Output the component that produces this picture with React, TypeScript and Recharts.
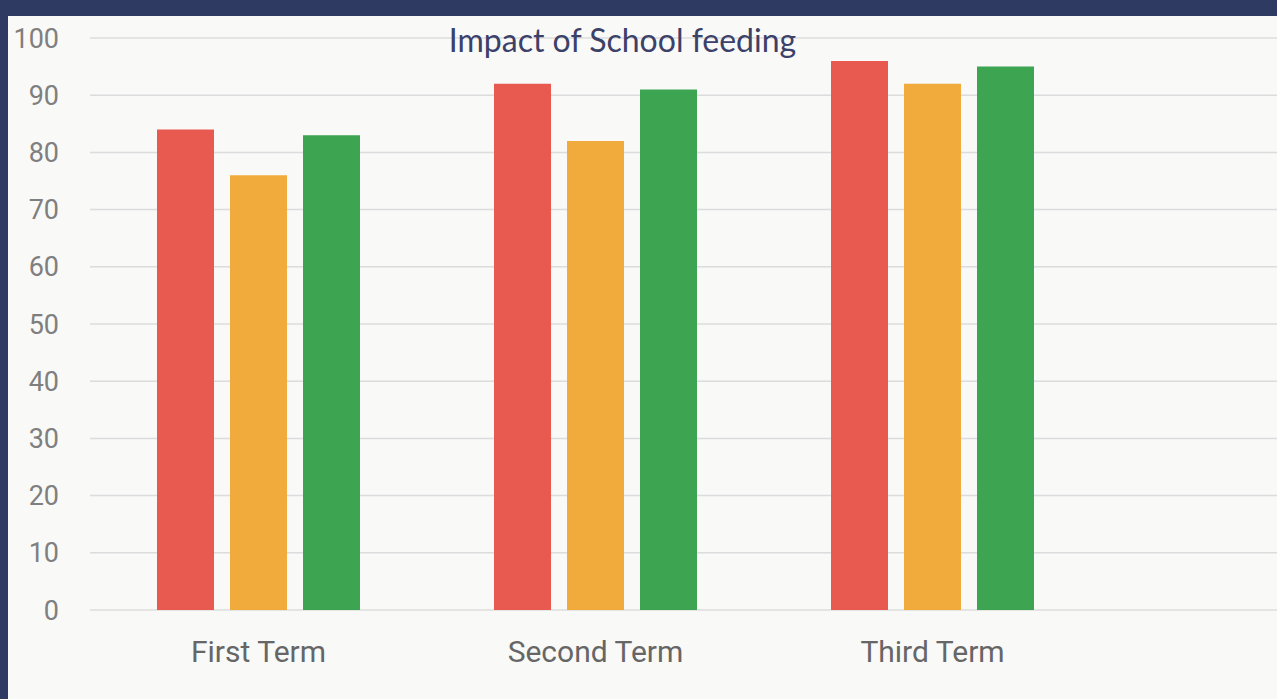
import { Bar, BarChart, CartesianGrid, XAxis, YAxis } from "recharts";

const terms = ["First Term", "Second Term", "Third Term"];
const redValues = [84, 92, 96];
const orangeValues = [76, 82, 92];
const greenValues = [83, 91, 95];
const yTicks = [0, 10, 20, 30, 40, 50, 60, 70, 80, 90, 100];

const data = terms.map((term, i) => ({
  term,
  red: redValues[i],
  orange: orangeValues[i],
  green: greenValues[i],
}));

export default function App() {
  return (
    <div
      style={{
        position: "absolute",
        left: 0,
        top: 0,
        width: 1277,
        height: 699,
        background: "#2e3a62",
        overflow: "hidden",
      }}
    >
      <div
        style={{
          position: "absolute",
          left: 8,
          top: 16,
          width: 1269,
          height: 683,
          background: "#f9f9f8",
        }}
      />
      <div style={{ position: "absolute", left: 0, top: 0 }}>
        <BarChart
          width={1277}
          height={699}
          data={data}
          margin={{ top: 38, right: 0, left: 0, bottom: 0 }}
          barSize={57}
          barGap={16}
        >
          <CartesianGrid vertical={false} stroke="#dcdcdc" strokeWidth={1.5} />
          <XAxis
            dataKey="term"
            height={89}
            axisLine={false}
            tickLine={false}
            tickSize={0}
            tickMargin={31}
            padding={{ left: 0, right: 176 }}
            tick={{ fontSize: 30, fill: "#666666", fontFamily: "Roboto" }}
          />
          <YAxis
            width={90}
            domain={[0, 100]}
            ticks={yTicks}
            interval={0}
            axisLine={false}
            tickLine={false}
            tickSize={0}
            tickMargin={31}
            tick={{ fontSize: 27, fill: "#7f7f7f", fontFamily: "Roboto" }}
          />
          <Bar dataKey="red" fill="#e85a4f" isAnimationActive={false} />
          <Bar dataKey="orange" fill="#f0ab3c" isAnimationActive={false} />
          <Bar dataKey="green" fill="#3da552" isAnimationActive={false} />
        </BarChart>
      </div>
      <div
        style={{
          position: "absolute",
          left: 0,
          top: 20,
          width: 1245,
          textAlign: "center",
          fontFamily: "Lato, sans-serif",
          fontSize: 32,
          color: "#3b4168",
        }}
      >
        Impact of School feeding
      </div>
    </div>
  );
}
